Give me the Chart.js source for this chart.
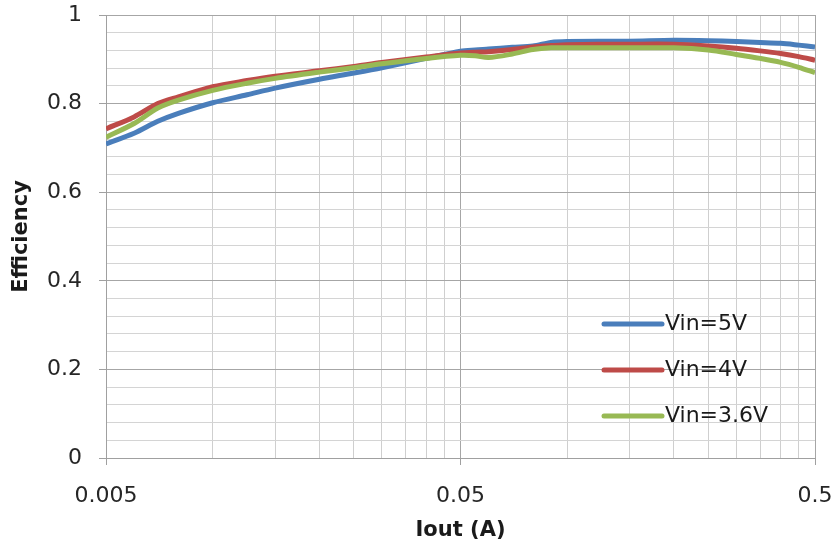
<!DOCTYPE html>
<html>
<head>
<meta charset="utf-8">
<script src="https://cdn.jsdelivr.net/npm/chart.js@4"></script>
<style>
  html, body { margin: 0; padding: 0; background: #fff; }
  #wrap { width: 835px; height: 552px; }
</style>
</head>
<body>
<div id="wrap"><canvas id="chart" width="835" height="552"></canvas></div>
<script>
// Efficiency vs output current, three input voltages

// Output current (A)
const iout = [0.005, 0.006, 0.007, 0.008, 0.01, 0.0125, 0.015, 0.02, 0.025, 0.03, 0.04, 0.05,
  0.055, 0.06, 0.07, 0.08, 0.09, 0.1, 0.15, 0.2, 0.25, 0.3, 0.35, 0.4, 0.45, 0.5];

const eff5V = [0.709, 0.733, 0.760, 0.778, 0.802, 0.820, 0.835, 0.855, 0.869, 0.881, 0.902, 0.918,
  0.921, 0.923, 0.927, 0.930, 0.938, 0.940, 0.941, 0.943, 0.942, 0.940, 0.938, 0.936, 0.932, 0.928];

const eff4V = [0.743, 0.770, 0.800, 0.815, 0.838, 0.852, 0.862, 0.874, 0.884, 0.893, 0.905, 0.914,
  0.916, 0.917, 0.922, 0.928, 0.931, 0.933, 0.934, 0.934, 0.930, 0.925, 0.919, 0.913, 0.906, 0.898];

const eff36V = [0.724, 0.755, 0.790, 0.808, 0.830, 0.846, 0.857, 0.871, 0.881, 0.890, 0.902, 0.909,
  0.908, 0.904, 0.912, 0.922, 0.926, 0.926, 0.926, 0.926, 0.921, 0.911, 0.902, 0.893, 0.882, 0.870];

const seriesLabels = ['Vin=5V', 'Vin=4V', 'Vin=3.6V'];
const seriesColors = ['#4a7ebb', '#be4b48', '#98b954'];

// Axis ticks
const xGridValues = [0.005, 0.01, 0.015, 0.02, 0.025, 0.03, 0.035, 0.04, 0.045,
  0.05, 0.1, 0.15, 0.2, 0.25, 0.3, 0.35, 0.4, 0.45, 0.5];
const xTickValues = [0.005, 0.05, 0.5];
const xTickLabels = ['0.005', '0.05', '0.5'];
const yTickValues = [0, 0.2, 0.4, 0.6, 0.8, 1];
const yTickLabels = ['0', '0.2', '0.4', '0.6', '0.8', '1'];
const yMinorStep = 0.04;

const tickFont = { family: 'DejaVu Sans', size: 22 };
const titleFont = { family: 'DejaVu Sans', size: 21, weight: 'bold' };

function near(a, b) { return Math.abs(a - b) < 1e-9; }
function isMajorX(v) { return xTickValues.some(t => near(t, v)); }
function isMajorY(v) { return yTickValues.some(t => near(t, v)); }

// Legend drawn inside the plot, like the original
const innerLegend = {
  id: 'innerLegend',
  afterDatasetsDraw(chart) {
    const ctx = chart.ctx;
    const x0 = 604, x1 = 662, rows = [324, 370, 416];
    ctx.save();
    ctx.font = '22px "DejaVu Sans"';
    ctx.textBaseline = 'middle';
    ctx.fillStyle = '#1a1a1a';
    seriesLabels.forEach((label, i) => {
      ctx.strokeStyle = seriesColors[i];
      ctx.lineWidth = 5;
      ctx.lineCap = 'round';
      ctx.beginPath();
      ctx.moveTo(x0, rows[i]);
      ctx.lineTo(x1, rows[i]);
      ctx.stroke();
      ctx.fillText(label, x1 + 3, rows[i]);
    });
    ctx.restore();
  }
};

const seriesData = [eff5V, eff4V, eff36V];

new Chart(document.getElementById('chart'), {
  type: 'line',
  data: {
    datasets: seriesData.map((vals, i) => ({
      label: seriesLabels[i],
      data: iout.map((x, j) => ({ x: x, y: vals[j] })),
      borderColor: seriesColors[i],
      backgroundColor: seriesColors[i],
      borderWidth: 5,
      pointRadius: 0,
      tension: 0.3,
      order: 3 - i
    }))
  },
  options: {
    responsive: false,
    animation: false,
    layout: { padding: 0 },
    plugins: {
      legend: { display: false },
      tooltip: { enabled: false }
    },
    scales: {
      x: {
        type: 'logarithmic',
        min: 0.005,
        max: 0.5,
        afterBuildTicks: s => { s.ticks = xGridValues.map(v => ({ value: v })); },
        afterFit: s => {
          s.height = 94;
          s.paddingLeft = 0;
          s.paddingRight = 20;
        },
        border: { color: '#a0a0a0' },
        grid: {
          color: c => isMajorX(c.tick.value) ? '#a6a6a6' : '#cfcfcf',
          tickColor: c => isMajorX(c.tick.value) ? '#a0a0a0' : 'rgba(0,0,0,0)',
          tickLength: 7
        },
        ticks: {
          autoSkip: false,
          maxRotation: 0,
          padding: 18,
          color: '#262626',
          font: tickFont,
          callback: v => {
            const k = xTickValues.findIndex(t => near(t, v));
            return k >= 0 ? xTickLabels[k] : '';
          }
        },
        title: {
          display: true,
          text: 'Iout (A)',
          color: '#1a1a1a',
          font: titleFont,
          padding: { top: 0, bottom: 9 }
        }
      },
      y: {
        min: 0,
        max: 1,
        afterBuildTicks: s => {
          const t = [];
          for (let i = 0; i <= Math.round(1 / yMinorStep); i++) t.push({ value: +(i * yMinorStep).toFixed(2) });
          s.ticks = t;
        },
        afterFit: s => {
          s.width = 106;
          s.paddingTop = 15;
          s.paddingBottom = 0;
        },
        border: { color: '#a0a0a0' },
        grid: {
          color: c => isMajorY(c.tick.value) ? '#a6a6a6' : '#d4d4d4',
          tickColor: c => isMajorY(c.tick.value) ? '#a0a0a0' : 'rgba(0,0,0,0)',
          tickLength: 7
        },
        ticks: {
          autoSkip: false,
          padding: 17,
          color: '#262626',
          font: tickFont,
          callback: v => {
            const k = yTickValues.findIndex(t => near(t, v));
            return k >= 0 ? yTickLabels[k] : '';
          }
        },
        title: {
          display: true,
          text: 'Efficiency',
          color: '#1a1a1a',
          font: titleFont,
          padding: { top: 9, bottom: 0 }
        }
      }
    }
  },
  plugins: [innerLegend]
});
</script>
</body>
</html>
